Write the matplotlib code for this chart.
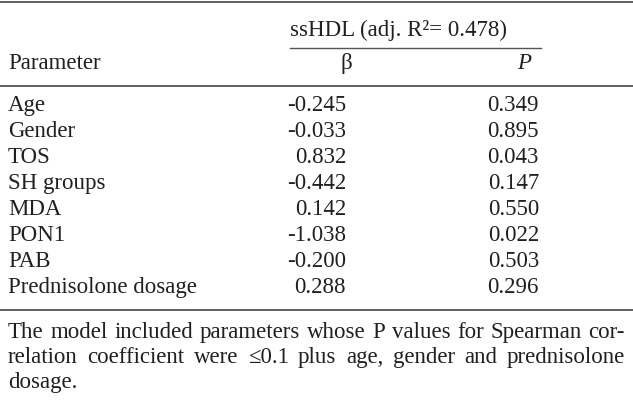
import matplotlib.pyplot as plt

plt.rcParams['font.family'] = ['Liberation Serif', 'DejaVu Serif']

params = ['Age', 'Gender', 'TOS', 'SH groups', 'MDA', 'PON1', 'PAB', 'Prednisolone dosage']
beta = ['-0.245', '-0.033', '0.832', '-0.442', '0.142', '-1.038', '-0.200', '0.288']
pvals = ['0.349', '0.895', '0.043', '0.147', '0.550', '0.022', '0.503', '0.296']
note = ['The model included parameters whose P values for Spearman cor-',
        'relation coefficient were \u22640.1 plus age, gender and prednisolone',
        'dosage.']

col = '#231f20'
rule = '#555555'
fs = 16.5
kw = dict(fontsize=fs, color=col, va='baseline')

fig = plt.figure(figsize=(6.33, 4), dpi=100)
ax = fig.add_axes([0, 0, 1, 1])
ax.set_xlim(0, 633)
ax.set_ylim(400, 0)
ax.axis('off')

# rules
ax.plot([0, 633], [2, 2], color=rule, lw=1.3)
ax.plot([290, 541], [48, 48], color=rule, lw=1.0)
ax.plot([0, 633], [86, 86], color=rule, lw=1.3)
ax.plot([0, 633], [310, 310], color=rule, lw=1.3)

ax.text(290, 36, 'ssHDL (adj. R\u00b2= 0.478)', ha='left', **kw)
ax.text(8, 69, 'Parameter', ha='left', **kw)
ax.text(346, 69, '\u03b2', ha='center', **kw)
ax.text(524, 69, 'P', ha='center', style='italic', **kw)

y0, dy = 111, 26
for i, (p, b, pv) in enumerate(zip(params, beta, pvals)):
    y = y0 + i * dy
    ax.text(8, y, p, ha='left', **kw)
    ax.text(346, y, b, ha='right', **kw)
    ax.text(539, y, pv, ha='right', **kw)

# footnote, justified except last line
fig.canvas.draw()
r = fig.canvas.get_renderer()
left, right = 8, 625
for k, line in enumerate(note):
    y = 338 + k * 25
    if k == len(note) - 1:
        ax.text(left, y, line, ha='left', **kw)
        continue
    words = line.split(' ')
    ts = [ax.text(0, y, w, ha='left', **kw) for w in words]
    fig.canvas.draw()
    inv = ax.transData.inverted()
    widths = []
    for t in ts:
        bb = t.get_window_extent(r)
        x0 = inv.transform((bb.x0, bb.y0))[0]
        x1 = inv.transform((bb.x1, bb.y0))[0]
        widths.append(x1 - x0)
    gap = (right - left - sum(widths)) / (len(words) - 1)
    x = left
    for t, w in zip(ts, widths):
        t.set_x(x)
        x += w + gap

fig.savefig('out.png', dpi=100)
